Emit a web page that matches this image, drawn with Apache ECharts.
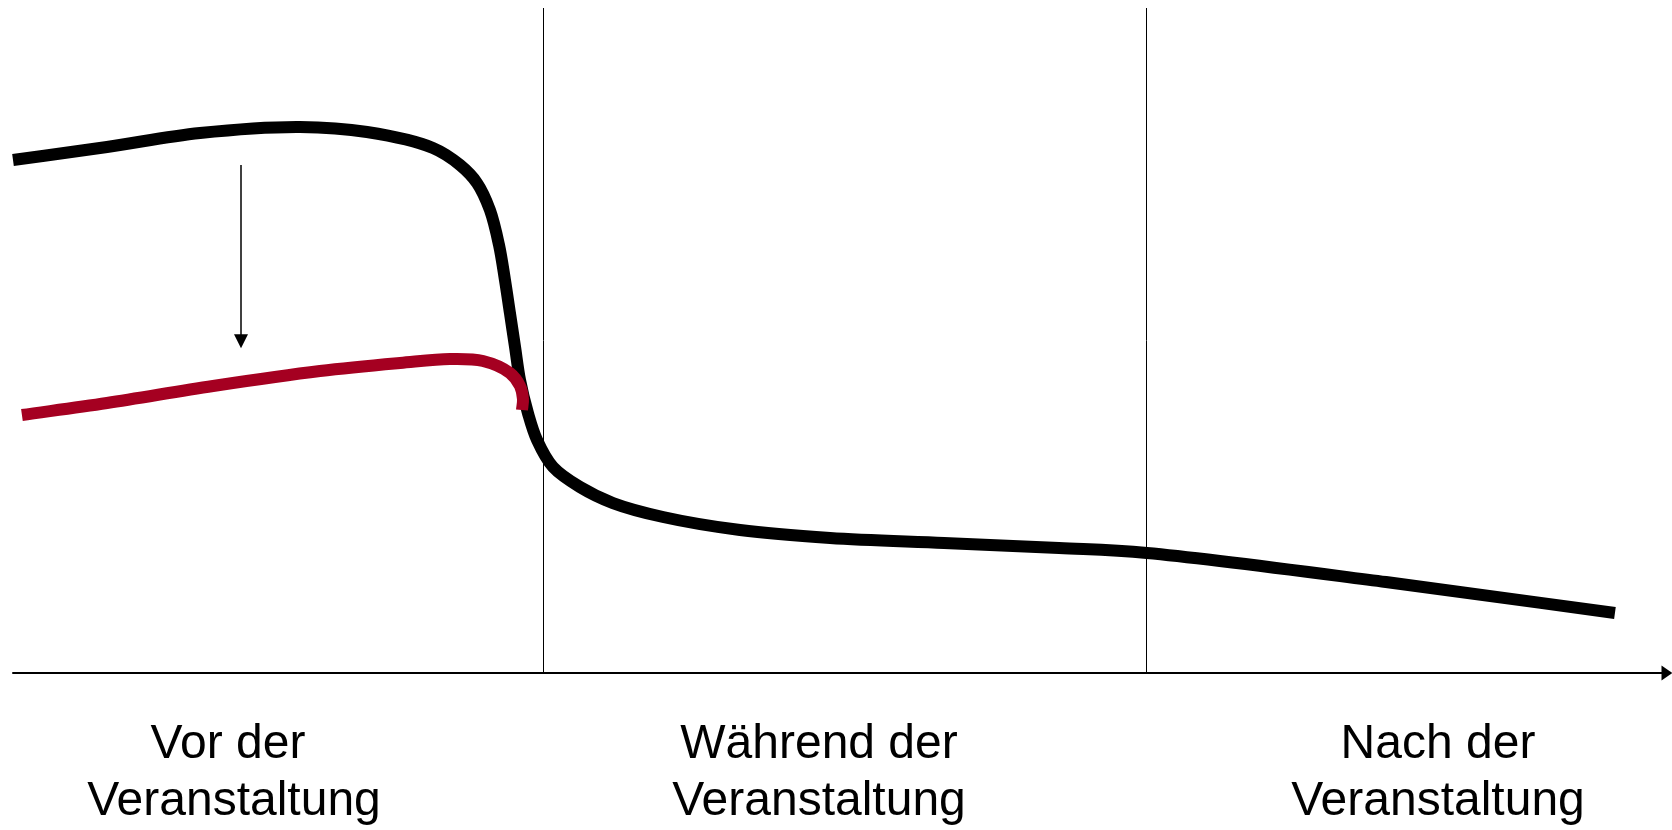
<!DOCTYPE html>
<html>
<head>
<meta charset="utf-8">
<script src="https://cdn.jsdelivr.net/npm/echarts@6/dist/echarts.min.js"></script>
<style>html,body{margin:0;padding:0;background:#fff;}#c{width:1672px;height:830px;}</style>
</head>
<body>
<div id="c"></div>
<script>
// Black curve (before intervention): [time, level]
const blackX = [0, 5.69, 11.32, 17.37, 21.43, 25.42, 27.06, 28.09, 28.87, 29.42, 29.78, 30.08, 30.39, 30.69, 31.17, 31.72, 32.69, 34.32, 36.32, 39.35, 44.01, 49.46, 56.36, 63.32, 68.64, 83.11, 96.97];
const blackY = [77.14, 79.10, 81.20, 82.11, 81.35, 78.95, 76.39, 73.68, 69.62, 64.36, 59.10, 54.14, 49.02, 44.06, 39.10, 35.04, 30.98, 27.97, 25.56, 23.46, 21.50, 20.30, 19.55, 18.80, 18.05, 13.68, 9.02];
// Red curve (lowered)
const redX = [0.54, 5.69, 12.11, 18.58, 23.43, 26.45, 28.45, 30.08, 30.69, 30.87, 30.81];
const redY = [38.80, 40.60, 43.16, 45.41, 46.62, 47.22, 46.92, 45.11, 43.16, 41.20, 39.55];
// Phase boundaries
const phaseBounds = [32.1, 68.6];
// Down arrow
const arrowX = 13.8;
const arrowY = [76.4, 49.9];
// Phase labels (two lines each)
const phaseLine1 = ['Vor der', 'Während der', 'Nach der'];
const phaseLine2 = ['Veranstaltung', 'Veranstaltung', 'Veranstaltung'];
const labelPx1 = [228, 819, 1438];
const labelPx2 = [234, 819, 1438];

// Centripetal Catmull-Rom through the pixel points, as cubic Bezier path data
function splinePath(pts) {
  const n = pts.length;
  const P = (i) => {
    if (i < 0) return [2 * pts[0][0] - pts[1][0], 2 * pts[0][1] - pts[1][1]];
    if (i >= n) return [2 * pts[n - 1][0] - pts[n - 2][0], 2 * pts[n - 1][1] - pts[n - 2][1]];
    return pts[i];
  };
  const dist = (a, b) => Math.pow(Math.hypot(a[0] - b[0], a[1] - b[1]), 0.5) || 1e-6;
  let d = 'M' + pts[0][0] + ',' + pts[0][1];
  for (let i = 0; i < n - 1; i++) {
    const p0 = P(i - 1), p1 = P(i), p2 = P(i + 1), p3 = P(i + 2);
    const d1 = dist(p0, p1), d2 = dist(p1, p2), d3 = dist(p2, p3);
    const c1 = [0, 1].map(k => (d1 * d1 * p2[k] - d2 * d2 * p0[k] + (2 * d1 * d1 + 3 * d1 * d2 + d2 * d2) * p1[k]) / (3 * d1 * (d1 + d2)));
    const c2 = [0, 1].map(k => (d3 * d3 * p1[k] - d2 * d2 * p3[k] + (2 * d3 * d3 + 3 * d3 * d2 + d2 * d2) * p2[k]) / (3 * d3 * (d3 + d2)));
    d += ' C' + c1[0] + ',' + c1[1] + ' ' + c2[0] + ',' + c2[1] + ' ' + p2[0] + ',' + p2[1];
  }
  return d;
}

function curveSeries(xs, ys, color, width, z) {
  return {
    type: 'custom', coordinateSystem: 'cartesian2d', clip: false, z: z, silent: true,
    data: [[xs[0], ys[0]]],
    encode: {x: 0, y: 1},
    renderItem: function (params, api) {
      const pts = xs.map((x, i) => api.coord([x, ys[i]]));
      return {
        type: 'path',
        shape: {pathData: splinePath(pts)},
        style: {fill: null, stroke: color, lineWidth: width, lineCap: 'butt', lineJoin: 'round'}
      };
    }
  };
}

const chart = echarts.init(document.getElementById('c'), null, {renderer: 'canvas'});
const font = '"Liberation Sans", Arial, sans-serif';
const graphics = [];
for (let i = 0; i < 3; i++) {
  graphics.push({type: 'text', x: labelPx1[i], y: 745, style: {text: phaseLine1[i], font: '48px ' + font, fill: '#000', align: 'center', verticalAlign: 'middle'}});
  graphics.push({type: 'text', x: labelPx2[i], y: 802, style: {text: phaseLine2[i], font: '48px ' + font, fill: '#000', align: 'center', verticalAlign: 'middle'}});
}

const black = curveSeries(blackX, blackY, '#000', 12, 3);
const red = curveSeries(redX, redY, '#A50021', 12, 4);

chart.setOption({
  animation: false,
  backgroundColor: '#fff',
  grid: {left: 13, right: 7, top: 8, bottom: 157, containLabel: false},
  xAxis: {
    type: 'value', min: 0, max: 100,
    axisLine: {show: true, onZero: true, lineStyle: {color: '#000', width: 2}, symbol: ['none', 'triangle'], symbolSize: [15, 11], symbolOffset: [0, 2]},
    axisTick: {show: false}, axisLabel: {show: false}, splitLine: {show: false}
  },
  yAxis: {
    type: 'value', min: 0, max: 100, show: false, splitLine: {show: false}
  },
  series: [
    black,
    red,
    {
      type: 'line', data: [], symbol: 'none', z: 2,
      markLine: {
        silent: true, symbol: ['none', 'none'], label: {show: false},
        lineStyle: {color: '#000', width: 1, type: 'solid'},
        data: phaseBounds.map(v => ({xAxis: v}))
      }
    },
    {
      type: 'line', data: [], symbol: 'none', z: 2,
      markLine: {
        silent: true, symbol: ['none', 'triangle'], symbolSize: 14, label: {show: false},
        lineStyle: {color: '#000', width: 1.5, type: 'solid'},
        itemStyle: {color: '#000'},
        data: [[{coord: [arrowX, arrowY[0]]}, {coord: [arrowX, arrowY[1]]}]]
      }
    }
  ],
  graphic: graphics
});
</script>
</body>
</html>
